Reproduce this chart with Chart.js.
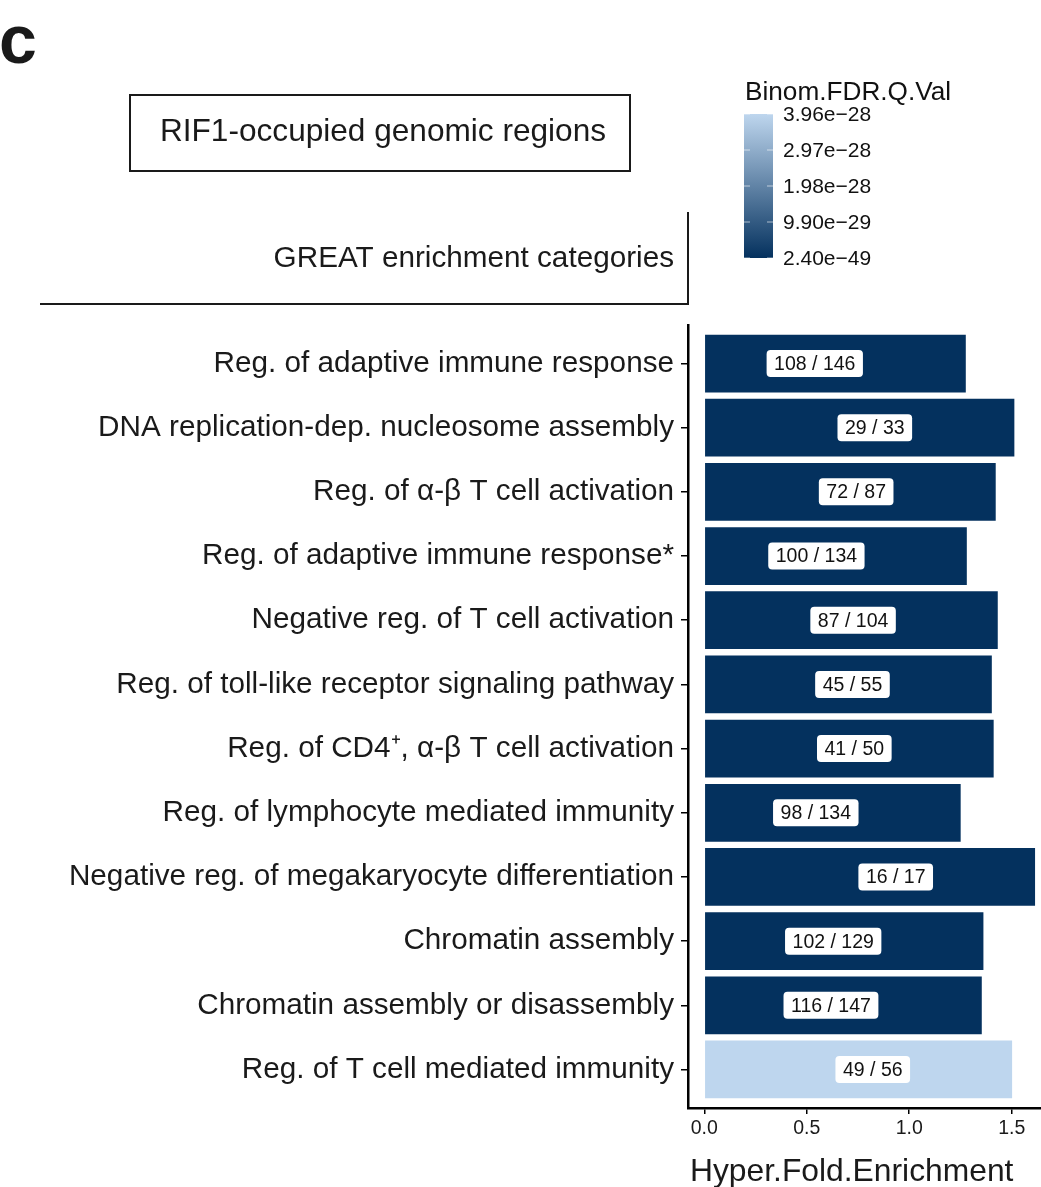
<!DOCTYPE html>
<html>
<head>
<meta charset="utf-8">
<script src="https://cdn.jsdelivr.net/npm/chart.js@4.4.1/dist/chart.umd.min.js"></script>
<style>
    html, body { margin: 0; padding: 0; background: #fff; }
    canvas { display: block; }
</style>
</head>
<body>
<canvas id="greatChart" width="1041" height="1187"></canvas>
<script>
// GREAT categories, top to bottom
const categories = [
    'Reg. of adaptive immune response',
    'DNA replication-dep. nucleosome assembly',
    'Reg. of \u03b1-\u03b2 T cell activation',
    'Reg. of adaptive immune response*',
    'Negative reg. of T cell activation',
    'Reg. of toll-like receptor signaling pathway',
    'Reg. of CD4\u207a, \u03b1-\u03b2 T cell activation',
    'Reg. of lymphocyte mediated immunity',
    'Negative reg. of megakaryocyte differentiation',
    'Chromatin assembly',
    'Chromatin assembly or disassembly',
    'Reg. of T cell mediated immunity'
];
const foldEnrichment = [1.276, 1.513, 1.422, 1.281, 1.432, 1.403, 1.412, 1.251, 1.614, 1.362, 1.354, 1.502];
const qValues = [2.4e-49, 2.4e-49, 2.4e-49, 2.4e-49, 2.4e-49, 2.4e-49, 2.4e-49, 2.4e-49, 2.4e-49, 2.4e-49, 2.4e-49, 3.96e-28];
const regionCounts = ['108 / 146', '29 / 33', '72 / 87', '100 / 134', '87 / 104', '45 / 55',
    '41 / 50', '98 / 134', '16 / 17', '102 / 129', '116 / 147', '49 / 56'];
const labelPos = [0.539, 0.832, 0.741, 0.547, 0.726, 0.723, 0.732, 0.544, 0.934, 0.629, 0.618, 0.822];

const xTicks = [0, 0.5, 1.0, 1.5];
const legendLabels = ['3.96e\u221228', '2.97e\u221228', '1.98e\u221228', '9.90e\u221229', '2.40e\u221249'];
const legendValues = [3.96e-28, 2.97e-28, 1.98e-28, 9.90e-29, 2.40e-49];

const LOW = [4, 49, 94];      // dark navy
const HIGH = [190, 214, 238]; // light blue
const FONT = '"Liberation Sans", Arial, Helvetica, sans-serif';
const qMax = 3.96e-28;

function fillFor(q) {
    const t = Math.max(0, Math.min(1, q / qMax));
    const c = LOW.map((v, k) => Math.round(v + (HIGH[k] - v) * t));
    return 'rgb(' + c.join(',') + ')';
}

// labels, header and colour bar drawn on top of chart.js output
const decorations = {
    id: 'decorations',
    afterDatasetsDraw(chart) {
        const ctx = chart.ctx;
        const xs = chart.scales.x;
        const meta = chart.getDatasetMeta(0);
        ctx.save();
        ctx.font = '19.5px ' + FONT;
        ctx.textAlign = 'center';
        ctx.textBaseline = 'middle';
        meta.data.forEach((bar, i) => {
            const cx = xs.getPixelForValue(labelPos[i]);
            const w = ctx.measureText(regionCounts[i]).width + 15;
            const h = 27;
            ctx.fillStyle = '#fff';
            ctx.beginPath();
            ctx.roundRect(cx - w / 2, bar.y - h / 2, w, h, 4);
            ctx.fill();
            ctx.fillStyle = '#111';
            ctx.fillText(regionCounts[i], cx, bar.y + 1);
        });
        ctx.restore();
    },
    afterDraw(chart) {
        const ctx = chart.ctx;
        ctx.save();
        ctx.fillStyle = '#1a1a1a';
        ctx.strokeStyle = '#1a1a1a';

        // panel letter
        ctx.font = 'bold 68px ' + FONT;
        ctx.textAlign = 'left';
        ctx.textBaseline = 'alphabetic';
        ctx.fillText('c', -1, 63);

        // boxed title
        ctx.lineWidth = 2;
        ctx.strokeRect(130, 95, 500, 76);
        ctx.font = '31.6px ' + FONT;
        ctx.textAlign = 'center';
        ctx.fillText('RIF1-occupied genomic regions', 383, 141);

        // category header with bracket lines
        ctx.font = '29.7px ' + FONT;
        ctx.textAlign = 'right';
        ctx.fillText('GREAT enrichment categories', 674, 267);
        ctx.beginPath();
        ctx.moveTo(688, 212);
        ctx.lineTo(688, 304);
        ctx.lineTo(40, 304);
        ctx.stroke();

        // x axis title
        ctx.font = '31.8px ' + FONT;
        ctx.textAlign = 'left';
        ctx.fillText('Hyper.Fold.Enrichment', 690, 1181);

        // colour bar legend
        const bx = 744, bw = 29, top = 114, bottom = 258;
        const grad = ctx.createLinearGradient(0, top, 0, bottom);
        grad.addColorStop(0, fillFor(qMax));
        grad.addColorStop(1, fillFor(0));
        ctx.fillStyle = grad;
        ctx.fillRect(bx, top, bw, bottom - top);

        ctx.fillStyle = '#111';
        ctx.font = '26.2px ' + FONT;
        ctx.textAlign = 'left';
        ctx.fillText('Binom.FDR.Q.Val', 745, 100);

        ctx.font = '21px ' + FONT;
        ctx.textBaseline = 'middle';
        ctx.strokeStyle = 'rgba(255,255,255,0.6)';
        ctx.lineWidth = 1;
        legendValues.forEach((v, i) => {
            const y = bottom - (v / qMax) * (bottom - top);
            ctx.fillText(legendLabels[i], 783, y + 1);
            ctx.beginPath();
            ctx.moveTo(bx, y); ctx.lineTo(bx + 6, y);
            ctx.moveTo(bx + bw - 6, y); ctx.lineTo(bx + bw, y);
            ctx.stroke();
        });
        ctx.restore();
    }
};

const ctx = document.getElementById('greatChart').getContext('2d');
const greatChart = new Chart(ctx, {
    type: 'bar',
    data: {
        datasets: [{
            data: categories.map((c, i) => ({ x: foldEnrichment[i], y: i })),
            backgroundColor: qValues.map(fillFor),
            borderWidth: 0,
            barPercentage: 0.9,
            categoryPercentage: 1.0
        }]
    },
    options: {
        indexAxis: 'y',
        responsive: false,
        animation: false,
        devicePixelRatio: 1,
        layout: { padding: { top: 325, right: 0, bottom: 0, left: 0 } },
        plugins: {
            legend: { display: false },
            tooltip: { enabled: false }
        },
        scales: {
            x: {
                type: 'linear',
                position: 'bottom',
                min: -0.0796,
                max: 1.643,
                afterBuildTicks: (scale) => { scale.ticks = xTicks.map(v => ({ value: v })); },
                afterFit: (scale) => { scale.height = 79; },
                ticks: {
                    callback: (v) => v.toFixed(1),
                    color: '#1a1a1a',
                    font: { size: 19.5, family: FONT },
                    padding: 3,
                    maxRotation: 0
                },
                grid: { drawOnChartArea: false, tickLength: 6, color: '#000', lineWidth: 1.5 },
                border: { color: '#000', width: 2.5 }
            },
            y: {
                type: 'linear',
                reverse: true,
                offset: false,
                min: -0.6,
                max: 11.6,
                afterBuildTicks: (scale) => { scale.ticks = categories.map((c, i) => ({ value: i })); },
                afterFit: (scale) => { scale.width = 688; },
                ticks: {
                    callback: (v) => categories[v],
                    color: '#1a1a1a',
                    font: { size: 29.7, family: FONT },
                    padding: 7,
                    autoSkip: false
                },
                grid: { offset: false, drawOnChartArea: false, tickLength: 7, color: '#000', lineWidth: 1.5 },
                border: { color: '#000', width: 2.5 }
            }
        }
    },
    plugins: [decorations]
});
</script>
</body>
</html>
